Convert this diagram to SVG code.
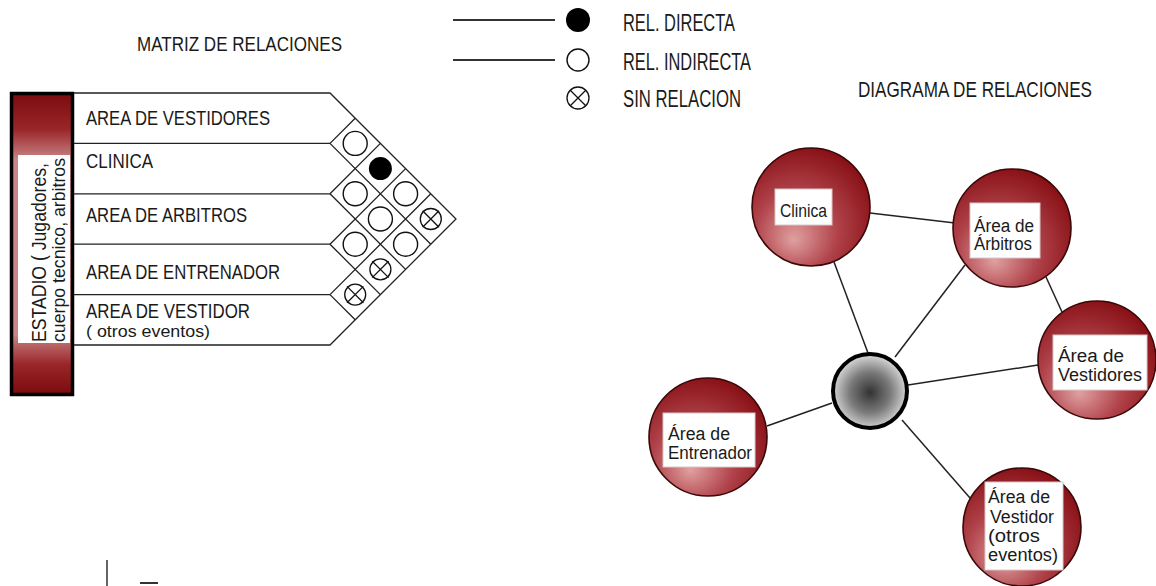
<svg xmlns="http://www.w3.org/2000/svg" width="1156" height="586" viewBox="0 0 1156 586">
<style>
text{font-family:"Liberation Sans Narrow","Liberation Sans",Arial,sans-serif;fill:#1a1a1a}
.cap{font-size:20px}
.ttl{font-size:21px}
.leg{font-size:23px}
.lbl{font-size:18px}
.grid{stroke:#222;stroke-width:1.3;fill:none}
.oc{fill:none;stroke:#111;stroke-width:1.4}
.fc{fill:#000}
.xc{fill:none;stroke:#111;stroke-width:1.3}
.con{stroke:#222;stroke-width:1.5;fill:none}
.node{fill:url(#redg);stroke:#3a0808;stroke-width:1.6}
.box{fill:#fff;stroke:#d8c8c8;stroke-width:1}
</style>
<defs>
<linearGradient id="barg" x1="0" y1="0" x2="0" y2="1">
<stop offset="0" stop-color="#7a0b0e"/>
<stop offset="0.12" stop-color="#9a2629"/>
<stop offset="0.22" stop-color="#c98587"/>
<stop offset="0.8" stop-color="#c98587"/>
<stop offset="0.9" stop-color="#9a2629"/>
<stop offset="1" stop-color="#7a0b0e"/>
</linearGradient>
<radialGradient id="redg" cx="40%" cy="65%" r="70%" fx="35%" fy="78%">
<stop offset="0" stop-color="#e0a0a0"/>
<stop offset="0.5" stop-color="#b0424a"/>
<stop offset="1" stop-color="#850d12"/>
</radialGradient>
<radialGradient id="grayg" cx="50%" cy="52%" r="55%">
<stop offset="0" stop-color="#333"/>
<stop offset="0.5" stop-color="#7a7a7a"/>
<stop offset="1" stop-color="#e8e8e8"/>
</radialGradient>
</defs>
<rect width="1156" height="586" fill="#fff"/>

<text class="ttl" x="137" y="51" textLength="205" lengthAdjust="spacingAndGlyphs">MATRIZ DE RELACIONES</text>

<g id="legend">
<line x1="453" y1="20" x2="555" y2="20" stroke="#333" stroke-width="2"/>
<circle cx="578" cy="20" r="12" fill="#000"/>
<text class="leg" x="623" y="31" textLength="112" lengthAdjust="spacingAndGlyphs">REL. DIRECTA</text>
<line x1="453" y1="60" x2="555" y2="60" stroke="#333" stroke-width="2"/>
<circle cx="578" cy="60" r="11" class="oc"/>
<text class="leg" x="623" y="70" textLength="128" lengthAdjust="spacingAndGlyphs">REL. INDIRECTA</text>
<circle cx="578" cy="98" r="11" class="xc"/>
<path d="M570,90 L586,106 M586,90 L570,106" class="xc"/>
<text class="leg" x="623" y="107" textLength="118" lengthAdjust="spacingAndGlyphs">SIN RELACION</text>
</g>

<g id="matrix">
<g id="estadio">
<rect x="11.5" y="93.5" width="61" height="301" fill="url(#barg)" stroke="#000" stroke-width="3.5"/>
<rect x="18" y="155" width="52" height="188" fill="#fff"/>
<text x="46" y="342" font-size="21" transform="rotate(-90 46 342)" textLength="179" lengthAdjust="spacingAndGlyphs">ESTADIO ( Jugadores,</text>
<text x="65" y="342" font-size="19" transform="rotate(-90 65 342)" textLength="184" lengthAdjust="spacingAndGlyphs">cuerpo tecnico, arbitros</text>
</g>
<g id="grid" class="grid">
<path d="M74,93 H330 L456,219 L330,345 H74"/>
<path d="M74,143.4 H330 M74,193.8 H330 M74,244.2 H330 M74,294.6 H330"/>
<path d="M330,143.4 L430.8,244.2 M330,193.8 L405.6,269.4 M330,244.2 L380.4,294.6 M330,294.6 L355.2,319.8"/>
<path d="M330,143.4 L355.2,118.2 M330,193.8 L380.4,143.4 M330,244.2 L405.6,168.6 M330,294.6 L430.8,193.8"/>
</g>
<g id="row-vestidores"><text class="cap" x="86" y="125" textLength="184" lengthAdjust="spacingAndGlyphs">AREA DE VESTIDORES</text></g>
<g id="row-clinica"><text class="cap" x="86" y="168" textLength="67" lengthAdjust="spacingAndGlyphs">CLINICA</text></g>
<g id="row-arbitros"><text class="cap" x="86" y="222" textLength="161" lengthAdjust="spacingAndGlyphs">AREA DE ARBITROS</text></g>
<g id="row-entrenador"><text class="cap" x="86" y="279" textLength="194" lengthAdjust="spacingAndGlyphs">AREA DE ENTRENADOR</text></g>
<g id="row-vestidor"><text class="cap" x="86" y="318" textLength="164" lengthAdjust="spacingAndGlyphs">AREA DE VESTIDOR</text>
<text x="86" y="337" font-size="16" textLength="124" lengthAdjust="spacingAndGlyphs">( otros eventos)</text></g>
<g id="cells">
<circle cx="355.2" cy="143.4" r="12" class="oc"/>
<circle cx="355.2" cy="193.8" r="12" class="oc"/>
<circle cx="355.2" cy="244.2" r="12" class="oc"/>
<circle cx="380.4" cy="168.6" r="11.5" class="fc"/>
<circle cx="380.4" cy="219" r="12" class="oc"/>
<circle cx="405.6" cy="193.8" r="12" class="oc"/>
<circle cx="405.6" cy="244.2" r="12" class="oc"/>
<circle cx="355.2" cy="294.6" r="10.5" class="xc"/>
<path d="M347,286.4 L363.4,302.8 M363.4,286.4 L347,302.8" class="xc"/>
<circle cx="380.4" cy="269.4" r="10.5" class="xc"/>
<path d="M372.2,261.2 L388.6,277.6 M388.6,261.2 L372.2,277.6" class="xc"/>
<circle cx="430.8" cy="219" r="10.5" class="xc"/>
<path d="M422.6,210.8 L439,227.2 M439,210.8 L422.6,227.2" class="xc"/>
</g>
</g>

<text x="858" y="97" font-size="22" textLength="234" lengthAdjust="spacingAndGlyphs">DIAGRAMA DE RELACIONES</text>

<g id="connectors">
<line class="con" x1="870" y1="213" x2="955" y2="223"/>
<line class="con" x1="834" y1="262" x2="868" y2="353"/>
<line class="con" x1="965" y1="265" x2="895" y2="357"/>
<line class="con" x1="1046" y1="277" x2="1062" y2="312"/>
<line class="con" x1="908" y1="385" x2="1038" y2="365"/>
<line class="con" x1="832" y1="403" x2="767" y2="426"/>
<line class="con" x1="902" y1="420" x2="970" y2="498"/>
</g>

<g id="node-clinica">
<circle class="node" cx="811" cy="207" r="59"/>
<rect class="box" x="775" y="189" width="57" height="36"/>
<text class="lbl" x="780" y="217" textLength="47" lengthAdjust="spacingAndGlyphs">Clinica</text>
</g>
<g id="node-arbitros">
<circle class="node" cx="1012" cy="228" r="59"/>
<rect class="box" x="970" y="203" width="70" height="55"/>
<text class="lbl" x="974" y="232" textLength="60" lengthAdjust="spacingAndGlyphs">Área de</text>
<text class="lbl" x="974" y="250" textLength="58" lengthAdjust="spacingAndGlyphs">Árbitros</text>
</g>
<g id="node-vestidores">
<circle class="node" cx="1097" cy="360" r="59"/>
<rect class="box" x="1053" y="335" width="94" height="55"/>
<text class="lbl" x="1058" y="362" textLength="66" lengthAdjust="spacingAndGlyphs">Área de</text>
<text class="lbl" x="1058" y="381" textLength="84" lengthAdjust="spacingAndGlyphs">Vestidores</text>
</g>
<g id="node-centro">
<circle cx="870" cy="391" r="37" fill="url(#grayg)" stroke="#000" stroke-width="4"/>
</g>
<g id="node-entrenador">
<circle class="node" cx="708" cy="437" r="59"/>
<rect class="box" x="663" y="413" width="92" height="54"/>
<text class="lbl" x="668" y="440" textLength="62" lengthAdjust="spacingAndGlyphs">Área de</text>
<text class="lbl" x="668" y="459" textLength="84" lengthAdjust="spacingAndGlyphs">Entrenador</text>
</g>
<g id="node-vestidor">
<circle class="node" cx="1022" cy="527" r="59"/>
<rect class="box" x="985" y="482" width="78" height="88"/>
<text class="lbl" x="988" y="503" textLength="62" lengthAdjust="spacingAndGlyphs">Área de</text>
<text class="lbl" x="990" y="523" textLength="64" lengthAdjust="spacingAndGlyphs">Vestidor</text>
<text class="lbl" x="988" y="542" textLength="52" lengthAdjust="spacingAndGlyphs">(otros</text>
<text class="lbl" x="988" y="561" textLength="70" lengthAdjust="spacingAndGlyphs">eventos)</text>
</g>

<g id="marks">
<line x1="107" y1="560" x2="107" y2="586" stroke="#333" stroke-width="1.5"/>
<line x1="140" y1="583" x2="158" y2="583" stroke="#333" stroke-width="2"/>
</g>
</svg>
